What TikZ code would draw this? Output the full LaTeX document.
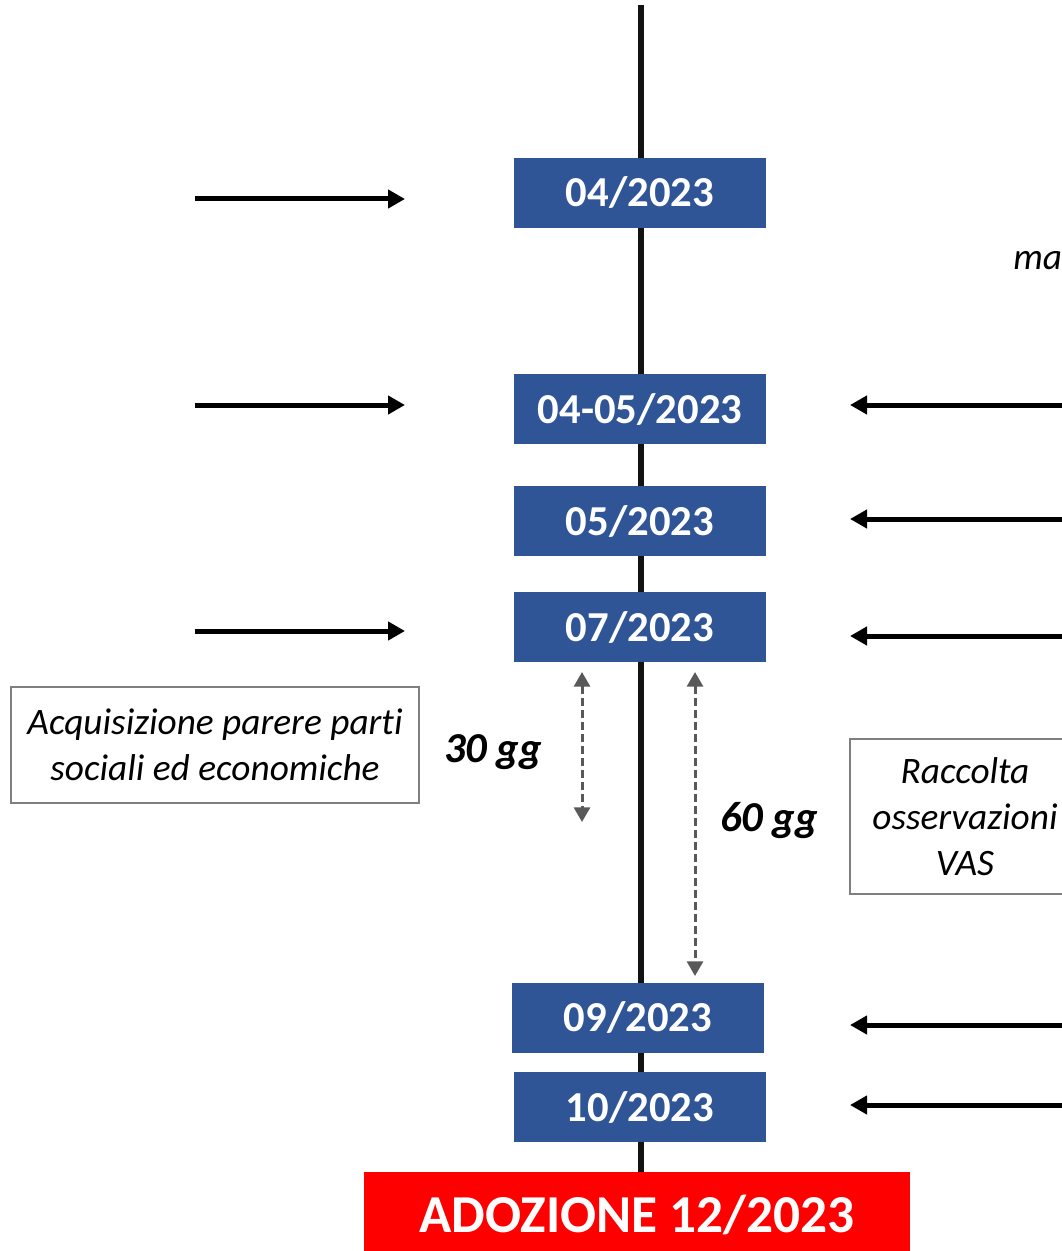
\documentclass[tikz,border=0pt]{standalone}
\usepackage{fontspec}
\setmainfont{Carlito}[Ligatures=NoCommon]
\usetikzlibrary{arrows.meta,positioning}
\definecolor{dateblue}{HTML}{2F5597}
\definecolor{adored}{HTML}{FF0000}
\definecolor{dashgray}{HTML}{595959}
\definecolor{boxgray}{HTML}{7F7F7F}

\begin{document}
\begin{tikzpicture}[
    x=0.75pt, y=-0.75pt,
    date/.style={fill=dateblue, text=white, inner sep=0pt, minimum width=189pt, minimum height=52.5pt,
      font=\fontsize{32}{38}\selectfont\bfseries},
    adoption/.style={fill=adored, text=white, inner sep=0pt, minimum width=409.5pt, minimum height=59.25pt,
      text height=31pt, text depth=0pt, font=\fontsize{40}{48}\selectfont\bfseries},
    note/.style={draw=boxgray, line width=1.5pt, align=center, inner sep=0pt,
      font=\fontsize{28}{34.5}\selectfont\itshape},
    span/.style={font=\fontsize{32}{38}\selectfont\bfseries\itshape},
    arrow/.style={-{Triangle[length=12.75pt, width=13.5pt]}, line width=3.75pt},
    dasharrow/.style={{Triangle[length=11pt, width=12pt]}-{Triangle[length=11pt, width=12pt]},
      line width=2.25pt, dashgray, dash pattern=on 6pt off 3pt},
    timeline/.style={line width=4pt, black!93}
  ]
    \clip (0,0) rectangle (1062,1251);

    % timeline
    \coordinate (top) at (641,5);
    \coordinate (bottom) at (641,1172);
    \draw[timeline] (top) -- (bottom);

    % dates
    \node[date] (d04) at (640,193) {04/2023};
    \node[date] (d0405) at (640,409) {04-05/2023};
    \node[date] (d05) at (640,521) {05/2023};
    \node[date] (d07) at (640,627) {07/2023};
    \node[date] (d09) at (638,1017.5) {09/2023};
    \node[date] (d10) at (640,1107) {10/2023};
    \node[adoption] (adoz) at (637,1211.5) {ADOZIONE 12/2023};

    % notes
    \node[note, minimum width=306pt, minimum height=87pt, text height=60pt, text depth=7pt] (parere) at (215,745)
      {Acquisizione parere parti\\sociali ed economiche};
    \node[note, minimum width=172.5pt, minimum height=116pt] (vas) at (965,816.5)
      {Raccolta\\osservazioni\\VAS};
    \node[font=\fontsize{28}{34.5}\selectfont\itshape, anchor=west, inner sep=0pt] (cut) at (1013,261) {ma};

    % durations
    \node[span] (g30) at (493,752) {30 gg};
    \node[span] (g60) at (769,821) {60 gg};
    \coordinate (s30) at (582,672);
    \coordinate (e30) at (582,822);
    \coordinate (s60) at (695,672);
    \coordinate (e60) at (695,976);
    \draw[dasharrow] (s30) -- (e30);
    \draw[dasharrow] (s60) -- (e60);

    % arrows from the left
    \foreach \i/\y in {1/199, 2/405, 3/631} {
      \coordinate (ls\i) at (195,\y);
      \coordinate (le\i) at (405,\y);
      \draw[arrow] (ls\i) -- (le\i);
    }

    % arrows from the right
    \foreach \i/\y in {1/405, 2/519, 3/636, 4/1025, 5/1105} {
      \coordinate (rs\i) at (1070,\y);
      \coordinate (re\i) at (850,\y);
      \draw[arrow] (rs\i) -- (re\i);
    }
  \end{tikzpicture}
\end{document}
